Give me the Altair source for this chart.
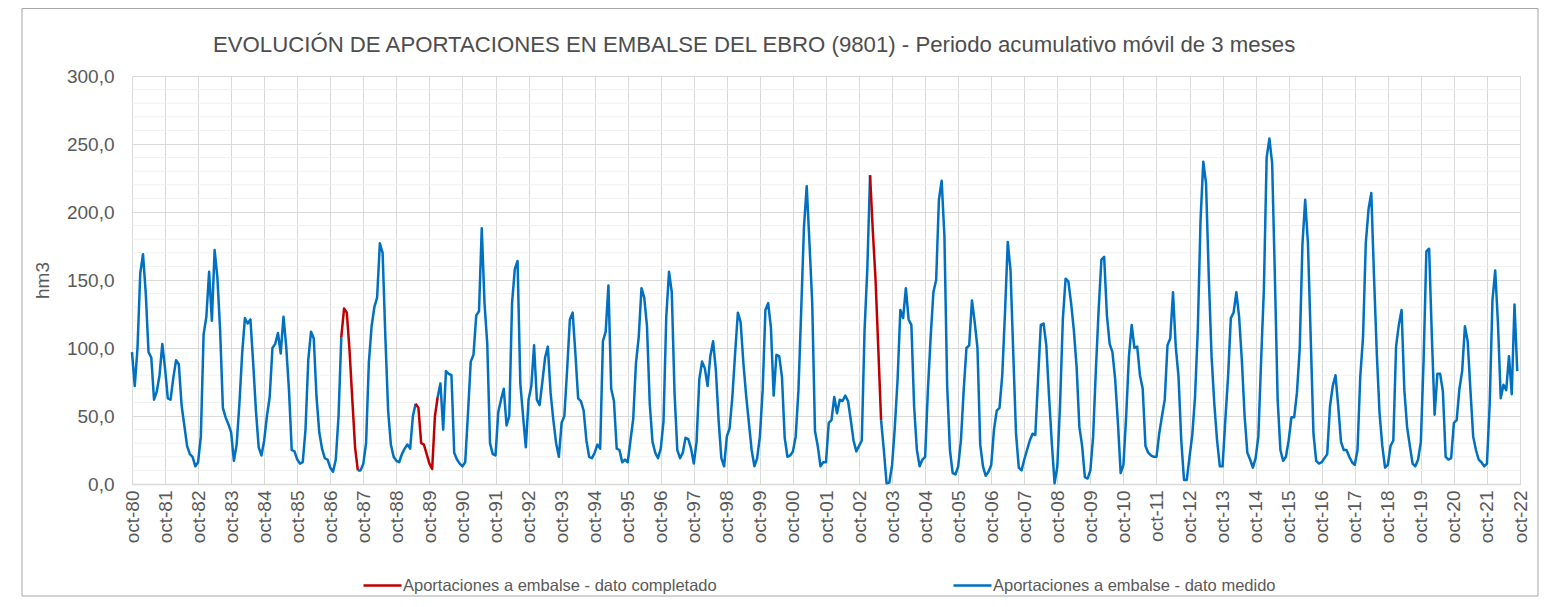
import json
import altair as alt
import pandas as pd

FONT = "Liberation Sans"
TEXT = "#595959"

TITLE = "EVOLUCIÓN DE APORTACIONES EN EMBALSE DEL EBRO (9801)  - Periodo acumulativo móvil de 3 meses"

# Monthly values (3-month moving sum, hm3), from oct-80 (index 0) to sep-22
values = [
    97, 72, 100, 155, 169, 140, 97, 93, 62, 68, 80, 103,
    85, 63, 62, 78, 91, 88, 58, 43, 28, 22, 20, 13,
    16, 35, 110, 123, 156, 120, 172, 152, 113, 56, 49, 44,
    38, 17, 29, 59, 96, 122, 118, 121, 89, 54, 27, 21,
    32, 50, 64, 100, 103, 111, 96, 123, 101, 69, 25, 24,
    18, 15, 16, 40, 91, 112, 107, 64, 38, 26, 19, 18,
    12, 9, 18, 50, 108, 129, 126, 98, 62, 27, 10, 10,
    15, 30, 89, 116, 130, 137, 177, 170, 108, 54, 29, 20,
    17, 16, 22, 26, 29, 26, 50, 59, 56, 30, 29, 22,
    15, 11, 50, 64, 74, 40, 83, 81, 80, 23, 18, 15,
    13, 16, 52, 90, 95, 124, 127, 188, 133, 103, 30, 22,
    21, 53, 62, 70, 43, 50, 133, 158, 164, 74, 50, 27,
    62, 72, 102, 62, 58, 75, 93, 101, 67, 47, 30, 20,
    45, 50, 84, 121, 126, 96, 63, 61, 54, 32, 20, 19,
    23, 29, 26, 105, 112, 146, 70, 61, 26, 25, 16, 18,
    16, 32, 48, 89, 108, 144, 137, 116, 59, 31, 23, 19,
    26, 46, 123, 156, 141, 67, 25, 19, 23, 34, 33, 26,
    15, 31, 77, 90, 85, 72, 94, 105, 84, 47, 19, 13,
    35, 41, 64, 96, 126, 119, 89, 65, 45, 25, 13, 19,
    35, 69, 128, 133, 115, 65, 95, 94, 79, 34, 20, 21,
    24, 35, 69, 128, 189, 219, 177, 133, 39, 28, 13, 16,
    16, 45, 47, 64, 52, 62, 61, 65, 61, 47, 32, 24,
    28, 32, 113, 158, 227, 186, 150, 99, 47, 25, 0.5, 1,
    14, 42, 77, 128, 122, 144, 121, 117, 57, 25, 13, 18,
    20, 69, 108, 141, 150, 209, 223, 182, 72, 25, 8, 7,
    13, 32, 69, 100, 102, 135, 119, 100, 29, 13, 6, 9,
    14, 40, 54, 56, 80, 126, 178, 157, 96, 37, 12, 10,
    18, 25, 32, 37, 36, 77, 117, 118, 102, 64, 30, 0.5,
    13, 59, 121, 151, 149, 133, 113, 86, 42, 28, 5, 4,
    10, 35, 84, 128, 165, 167, 124, 103, 97, 77, 45, 8,
    14, 50, 94, 117, 100, 101, 80, 70, 28, 23, 21, 20,
    20, 37, 50, 62, 102, 107, 141, 101, 79, 32, 3, 3,
    20, 36, 64, 113, 194, 237, 221, 152, 94, 59, 32, 13,
    13, 47, 79, 122, 126, 141, 123, 91, 50, 23, 18, 12,
    19, 35, 91, 143, 240, 254, 236, 152, 62, 25, 17, 20,
    32, 49, 49, 67, 99, 176, 209, 177, 108, 37, 17, 15,
    16, 19, 22, 57, 72, 80, 57, 31, 25, 25, 20, 16,
    14, 25, 79, 108, 177, 202, 214, 152, 96, 52, 28, 12,
    14, 28, 32, 101, 117, 128, 69, 42, 28, 15, 13, 18,
    31, 91, 171, 173, 108, 51, 81, 81, 68, 20, 18, 19,
    45, 47, 70, 83, 116, 105, 69, 35, 25, 18, 16, 13,
    15, 59, 135, 157, 118, 63, 73, 69, 94, 66, 132, 83,
]

# Month-index ranges drawn as "dato completado" (red)
completed_ranges = [(76, 82), (103, 111), (268, 272)]

tick_labels = [
    "oct-80", "oct-81", "oct-82", "oct-83", "oct-84", "oct-85", "oct-86",
    "oct-87", "oct-88", "oct-89", "oct-90", "oct-91", "oct-92", "oct-93",
    "oct-94", "oct-95", "oct-96", "oct-97", "oct-98", "oct-99", "oct-00",
    "oct-01", "oct-02", "oct-03", "oct-04", "oct-05", "oct-06", "oct-07",
    "oct-08", "oct-09", "oct-10", "oct-11", "oct-12", "oct-13", "oct-14",
    "oct-15", "oct-16", "oct-17", "oct-18", "oct-19", "oct-20", "oct-21",
    "oct-22",
]
tick_positions = [12 * k for k in range(len(tick_labels))]

y_ticks = [0, 50, 100, 150, 200, 250, 300]
minor_grid = [10, 20, 30, 40, 60, 70, 80, 90, 110, 120, 130, 140, 160, 170,
              180, 190, 210, 220, 230, 240, 260, 270, 280, 290]

series_names = ["Aportaciones a embalse - dato completado",
                "Aportaciones a embalse - dato medido"]
series_colors = ["#C00000", "#0070C0"]

# Build segment table
rows = []
seg = 0
cur = 0
last = len(values) - 1
for a, b in completed_ranges:
    for i in range(cur, a + 1):
        rows.append({"mes": i, "valor": values[i], "serie": series_names[1], "seg": seg})
    seg += 1
    for i in range(a, b + 1):
        rows.append({"mes": i, "valor": values[i], "serie": series_names[0], "seg": seg})
    seg += 1
    cur = b
for i in range(cur, last + 1):
    rows.append({"mes": i, "valor": values[i], "serie": series_names[1], "seg": seg})
df = pd.DataFrame(rows)

x_label_expr = json.dumps(tick_labels) + "[round(datum.value / 12)]"
y_label_expr = "replace(format(datum.value, '.1f'), '.', ',')"

y_scale = alt.Scale(domain=[0, 300], nice=False, zero=True)
y_axis = alt.Axis(
    values=y_ticks, labelExpr=y_label_expr, title="hm3",
    grid=True, gridColor="#d9d9d9", gridWidth=1, ticks=False,
    domain=False, labelFont=FONT, labelFontSize=19, labelColor=TEXT,
    labelPadding=18, titleFont=FONT, titleFontSize=19,
    titleFontWeight="normal", titleColor=TEXT, titlePadding=14,
)

minor = alt.Chart(pd.DataFrame({"valor": minor_grid})).mark_rule(
    color="#f0f0f0", strokeWidth=1
).encode(y=alt.Y("valor:Q", scale=y_scale, axis=y_axis))

line = alt.Chart(df).mark_line(strokeWidth=2.5, strokeJoin="round").encode(
    x=alt.X(
        "mes:Q",
        scale=alt.Scale(domain=[0, 504], nice=False, zero=False),
        axis=alt.Axis(
            values=tick_positions, labelExpr=x_label_expr, labelAngle=270,
            title=None, grid=True, gridColor="#d9d9d9", gridWidth=1,
            ticks=False, domain=True, domainColor="#d9d9d9", domainWidth=1.5,
            labelFont=FONT, labelFontSize=19, labelColor=TEXT, labelPadding=6,
            labelOverlap=False, labelBound=False, labelFlush=False,
        ),
    ),
    y=alt.Y("valor:Q", scale=y_scale, axis=y_axis),
    color=alt.Color(
        "serie:N",
        scale=alt.Scale(domain=series_names, range=series_colors),
        legend=alt.Legend(
            title=None, orient="none", legendX=230, legendY=489,
            direction="horizontal", columns=2, columnPadding=231,
            symbolType="stroke", symbolSize=1444, symbolStrokeWidth=2.5,
            labelFont=FONT, labelFontSize=16.5, labelColor=TEXT, labelLimit=0,
            labelOffset=0, padding=0,
        ),
    ),
    detail="seg:N",
    order="mes:Q",
)

frame = alt.Chart(pd.DataFrame({"k": [0]})).mark_rect(
    fillOpacity=0, stroke="#a6a6a6", strokeWidth=1
).encode(
    x=alt.value(-110), x2=alt.value(1406), y=alt.value(-67.5), y2=alt.value(520)
)

chart = alt.layer(minor, line, frame).properties(
    width=1388,
    height=408,
    title=alt.TitleParams(
        text=TITLE, anchor="start", frame="group", dx=81, offset=0, dy=48,
        fontSize=22.2, font=FONT, color="#4d4d4d", fontWeight="normal",
    ),
    autosize=alt.AutoSizeParams(type="none"),
    padding={"left": 124, "top": 68, "right": 22, "bottom": 113},
).configure_view(strokeWidth=0)

chart.save("out.html", embed_options={"renderer": "svg", "actions": False})
